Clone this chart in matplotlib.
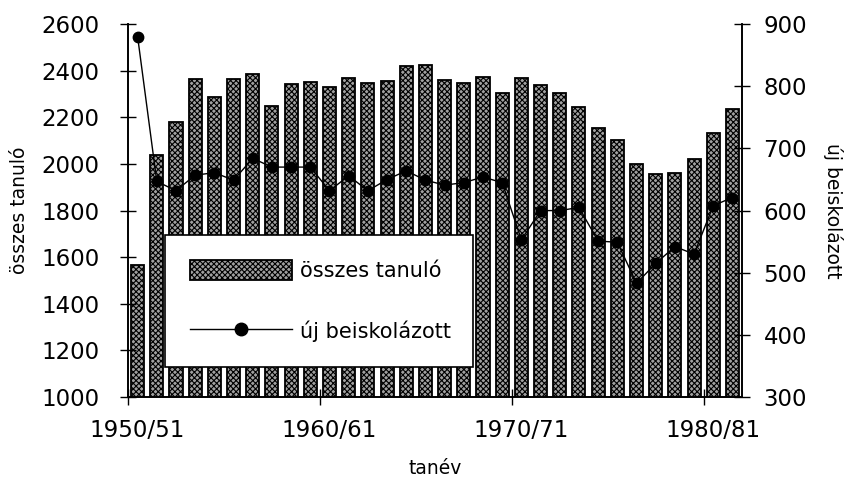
import numpy as np
import matplotlib
matplotlib.use("Agg")
import matplotlib.pyplot as plt
from matplotlib.lines import Line2D
from matplotlib.patches import Patch

# DATA
tanev = [f"{y}/{(y + 1) % 100:02d}" for y in range(1950, 1982)]
osszes_tanulo = [1565, 2040, 2180, 2366, 2288, 2363, 2386, 2248, 2343, 2351,
                 2331, 2368, 2346, 2356, 2421, 2423, 2360, 2346, 2374, 2303,
                 2371, 2337, 2303, 2244, 2155, 2105, 2002, 1955, 1960, 2020,
                 2135, 2235]
uj_beiskolazott = [880, 647, 632, 657, 661, 649, 684, 670, 670, 670,
                   632, 656, 632, 650, 664, 649, 641, 645, 654, 645,
                   553, 600, 600, 605, 551, 549, 483, 515, 542, 530,
                   608, 621]
left_ticks = [1000, 1200, 1400, 1600, 1800, 2000, 2200, 2400, 2600]
right_ticks = [300, 400, 500, 600, 700, 800, 900]

plt.rcParams['font.family'] = ['DejaVu Sans']
plt.rcParams['hatch.linewidth'] = 0.8

BAR_FACE = "#a0a0a0"
BAR_HATCH = "xxxxxx"

fig = plt.figure(figsize=(8.5, 4.83), dpi=100)
ax = fig.add_axes([0.1506, 0.178, 0.7224, 0.772])
ax2 = ax.twinx()

x = np.arange(len(tanev))
ax.bar(x, osszes_tanulo, width=0.68, color=BAR_FACE, edgecolor="black",
       linewidth=1.3, hatch=BAR_HATCH)
ax2.plot(x, uj_beiskolazott, color="black", lw=1.0, marker="o", ms=7.5,
         mfc="black", mec="black")

ax.set_xlim(-0.5, len(tanev) - 0.5)
ax.set_ylim(1000, 2600)
ax2.set_ylim(300, 900)
ax.set_yticks(left_ticks)
ax2.set_yticks(right_ticks)

# category axis: tick marks between categories, labels every 10th
ax.set_xticks([-0.5, 9.5, 19.5, 29.5])
ax.set_xticklabels([])
ax.set_xticks([0, 10, 20, 30], minor=True)
ax.set_xticklabels([tanev[i] for i in (0, 10, 20, 30)], minor=True)
ax.tick_params(axis="x", which="major", direction="inout", length=11, width=1)
ax.tick_params(axis="x", which="minor", length=0, pad=16, labelsize=16.5)

ax.tick_params(axis="y", direction="inout", length=11, width=1, labelsize=16.5, pad=15)
ax2.tick_params(axis="y", direction="inout", length=11, width=1, labelsize=16.5, pad=10)

for a in (ax, ax2):
    a.spines["top"].set_visible(False)
    for s in ("left", "right", "bottom"):
        a.spines[s].set_linewidth(1.2)

ax.set_ylabel("összes tanuló", fontsize=13.5, labelpad=9)
ax2.set_ylabel("új beiskolázott", fontsize=13.5, rotation=270, labelpad=26)
ax.set_xlabel("tanév", fontsize=13.5, labelpad=12)

handles = [
    Patch(facecolor=BAR_FACE, edgecolor="black", hatch=BAR_HATCH, linewidth=1.3),
    Line2D([0], [0], color="black", lw=1.0, marker="o", ms=9, mfc="black"),
]
leg = ax2.legend(handles, ["összes tanuló", "új beiskolázott"],
                 loc="lower left", bbox_to_anchor=(0.060, 0.0804, 0.5016, 0.36),
                 mode="expand", borderaxespad=0, fontsize=15, handlelength=4.9,
                 handleheight=1.15, labelspacing=1.9, borderpad=1.2,
                 handletextpad=0.4, fancybox=False, framealpha=1,
                 edgecolor="black")
leg.get_frame().set_linewidth(1.2)

fig.savefig("out.png", dpi=100)
